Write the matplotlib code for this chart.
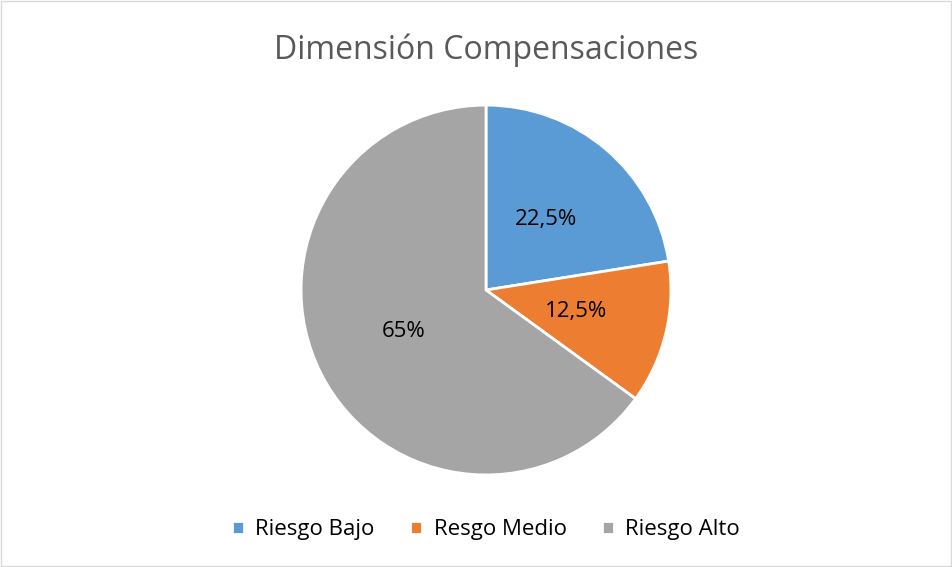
import matplotlib.pyplot as plt
from matplotlib.patches import Rectangle

# Data
categories = ["Riesgo Bajo", "Resgo Medio", "Riesgo Alto"]
values = [22.5, 12.5, 65]
pct_labels = ["22,5%", "12,5%", "65%"]
colors = ["#5B9BD5", "#ED7D31", "#A5A5A5"]

plt.rcParams['font.family'] = ['Open Sans', 'DejaVu Sans']

fig = plt.figure(figsize=(9.53, 5.67), dpi=100)

# light frame around the chart area
fig.patches.append(Rectangle((0.001, 0.001), 0.997, 0.997, transform=fig.transFigure,
                             fill=False, edgecolor="#D9D9D9", linewidth=1))

ax = fig.add_axes([0.3169, 0.164, 368 / 953, 368 / 567])
wedges, texts = ax.pie(values, colors=colors, startangle=90, counterclock=False,
                       labels=pct_labels, labeldistance=0.5,
                       wedgeprops=dict(edgecolor="white", linewidth=2),
                       textprops=dict(fontsize=16, color="black"))
for t in texts:
    t.set_horizontalalignment("center")
    t.set_verticalalignment("center")
ax.set_xlim(-0.995, 0.995)
ax.set_ylim(-0.995, 0.995)
ax.set_aspect("equal")

fig.text(0.51, 1 - 50 / 567, "Dimensión Compensaciones", ha="center", va="center",
         fontsize=23, color="#595959")

fig.legend(wedges, categories, loc="center", bbox_to_anchor=(0.51, 1 - 530 / 567),
           ncol=3, frameon=False, fontsize=16, handlelength=0.55, handleheight=0.55,
           columnspacing=1.6, handletextpad=0.5)

fig.savefig("out.png", dpi=100)
